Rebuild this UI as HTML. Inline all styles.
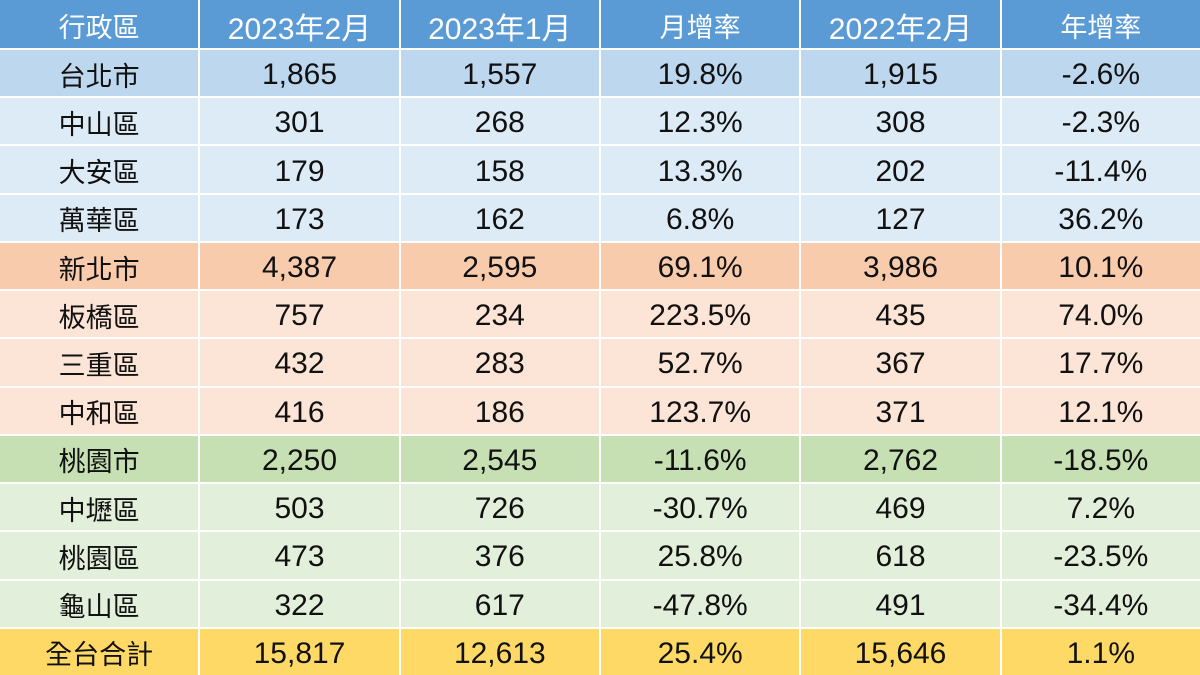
<!DOCTYPE html><html><head><meta charset="utf-8"><style>
html,body{margin:0;padding:0;width:1200px;height:675px;overflow:hidden;background:#fff}
.g{display:grid;grid-template-columns:repeat(6,1fr);grid-template-rows:repeat(14,1fr);gap:2px;width:1200px;height:675px;box-sizing:border-box;font-family:"Liberation Sans","Noto Sans CJK TC",sans-serif;font-size:30px;color:#111}
.g div{display:flex;align-items:center;justify-content:center;padding-top:4px;box-sizing:border-box}
.g div:nth-child(6n+1){font-size:27px;padding-top:2px}
.g div:nth-child(4),.g div:nth-child(6){font-size:27px;padding-top:2px}
.h{background:#5b9bd5;color:#fff}
.b1{background:#bdd7ee}.b2{background:#ddebf7}
.o1{background:#f8cbad}.o2{background:#fce4d6}
.g1{background:#c6e0b4}.g2{background:#e2efda}
.y{background:#ffd966}
</style></head><body><div class="g">
<div class="h">行政區</div><div class="h">2023年2月</div><div class="h">2023年1月</div><div class="h">月增率</div><div class="h">2022年2月</div><div class="h">年增率</div>
<div class="b1">台北市</div><div class="b1">1,865</div><div class="b1">1,557</div><div class="b1">19.8%</div><div class="b1">1,915</div><div class="b1">-2.6%</div>
<div class="b2">中山區</div><div class="b2">301</div><div class="b2">268</div><div class="b2">12.3%</div><div class="b2">308</div><div class="b2">-2.3%</div>
<div class="b2">大安區</div><div class="b2">179</div><div class="b2">158</div><div class="b2">13.3%</div><div class="b2">202</div><div class="b2">-11.4%</div>
<div class="b2">萬華區</div><div class="b2">173</div><div class="b2">162</div><div class="b2">6.8%</div><div class="b2">127</div><div class="b2">36.2%</div>
<div class="o1">新北市</div><div class="o1">4,387</div><div class="o1">2,595</div><div class="o1">69.1%</div><div class="o1">3,986</div><div class="o1">10.1%</div>
<div class="o2">板橋區</div><div class="o2">757</div><div class="o2">234</div><div class="o2">223.5%</div><div class="o2">435</div><div class="o2">74.0%</div>
<div class="o2">三重區</div><div class="o2">432</div><div class="o2">283</div><div class="o2">52.7%</div><div class="o2">367</div><div class="o2">17.7%</div>
<div class="o2">中和區</div><div class="o2">416</div><div class="o2">186</div><div class="o2">123.7%</div><div class="o2">371</div><div class="o2">12.1%</div>
<div class="g1">桃園市</div><div class="g1">2,250</div><div class="g1">2,545</div><div class="g1">-11.6%</div><div class="g1">2,762</div><div class="g1">-18.5%</div>
<div class="g2">中壢區</div><div class="g2">503</div><div class="g2">726</div><div class="g2">-30.7%</div><div class="g2">469</div><div class="g2">7.2%</div>
<div class="g2">桃園區</div><div class="g2">473</div><div class="g2">376</div><div class="g2">25.8%</div><div class="g2">618</div><div class="g2">-23.5%</div>
<div class="g2">龜山區</div><div class="g2">322</div><div class="g2">617</div><div class="g2">-47.8%</div><div class="g2">491</div><div class="g2">-34.4%</div>
<div class="y">全台合計</div><div class="y">15,817</div><div class="y">12,613</div><div class="y">25.4%</div><div class="y">15,646</div><div class="y">1.1%</div>
</div></body></html>
